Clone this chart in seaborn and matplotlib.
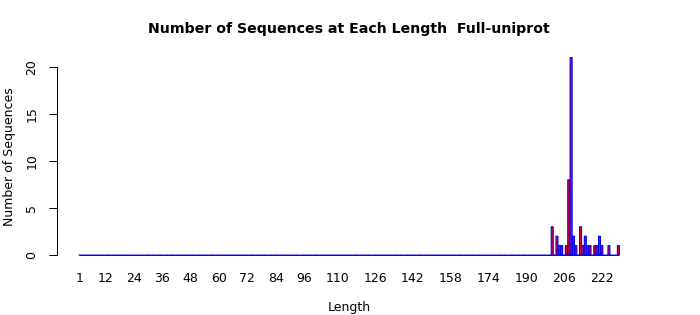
import matplotlib
matplotlib.use("Agg")
import matplotlib.pyplot as plt
import seaborn as sns
import numpy as np
import pandas as pd

# ---- data ----
min_length = 1
max_length = 229
nonzero_lengths = [201, 203, 204, 205, 207, 208, 209, 210, 211, 213,
                   214, 215, 216, 217, 219, 220, 221, 222, 225, 229]
nonzero_counts = [3, 2, 1, 1, 1, 8, 21, 2, 1, 3,
                  1, 2, 1, 1, 1, 1, 2, 1, 1, 1]
tick_labels = [1, 12, 24, 36, 48, 60, 72, 84, 96, 110, 126, 142, 158,
               174, 190, 206, 222]
y_ticks = [0, 5, 10, 15, 20]

title = "Number of Sequences at Each Length  Full-uniprot"

lengths = list(range(min_length, max_length + 1))
count_map = dict(zip(nonzero_lengths, nonzero_counts))
counts = [count_map.get(L, 0) for L in lengths]
df = pd.DataFrame({"Length": lengths, "Count": counts})

sns.set_style("ticks")
plt.rcParams["font.family"] = ["DejaVu Sans"]
plt.rcParams["text.color"] = "black"
plt.rcParams["axes.labelcolor"] = "black"

fig = plt.figure(figsize=(7.0, 3.15), dpi=100)
W, H = 700, 315
left_px, right_px, top_px, bottom_px = 57, 641, 49.7, 262.9
ax = fig.add_axes([left_px / W, 1 - bottom_px / H,
                   (right_px - left_px) / W, (bottom_px - top_px) / H])

sns.barplot(data=df, x="Length", y="Count", color="#ff0000",
            edgecolor="#0000ff", linewidth=0.8, width=1 / 1.2,
            saturation=1, errorbar=None, ax=ax)
for p in ax.patches:
    p.set_snap(False)

# outline of the zero-height bars along the baseline (R draws their borders)
x0 = ax.patches[0].get_x()
x1 = ax.patches[-1].get_x() + ax.patches[-1].get_width()
ax.hlines(0, x0, x1, colors="#0000ff", linewidth=0.72, zorder=3)

ax.set_xlim((-10.78 - 0.7) / 1.2, (285.78 - 0.7) / 1.2)
ax.set_ylim(-0.84, 21.84)

for s in ["top", "right", "bottom"]:
    ax.spines[s].set_visible(False)
ax.spines["left"].set_bounds(0, 20)
ax.spines["left"].set_linewidth(0.72)
ax.spines["left"].set_color("black")

ax.set_yticks(y_ticks)
ax.set_yticklabels([str(v) for v in y_ticks], rotation=90, va="center",
                   fontsize=9)
ax.tick_params(axis="y", length=5.5, width=0.72, pad=8, colors="black")

lengths_arr = np.array(lengths)
xt = [int(np.where(lengths_arr == v)[0][0]) for v in tick_labels]
ax.set_xticks(xt)
ax.set_xticklabels([str(v) for v in tick_labels], fontsize=9)
ax.tick_params(axis="x", length=0, pad=6.5, colors="black")

ax.set_xlabel("Length", fontsize=9)
ax.xaxis.label.set_va("center")
ax.xaxis.set_label_coords(0.5, (bottom_px - 307) / (bottom_px - top_px))
ax.set_ylabel("Number of Sequences", fontsize=9)
ax.yaxis.label.set_va("center")
ax.yaxis.set_label_coords((9.5 - left_px) / (right_px - left_px), 0.5)

ax.set_title(title, fontsize=10.2, fontweight="bold", va="center",
             color="black", pad=0,
             y=(bottom_px - 29) / (bottom_px - top_px))

fig.savefig("out.png", dpi=100, facecolor="white")
